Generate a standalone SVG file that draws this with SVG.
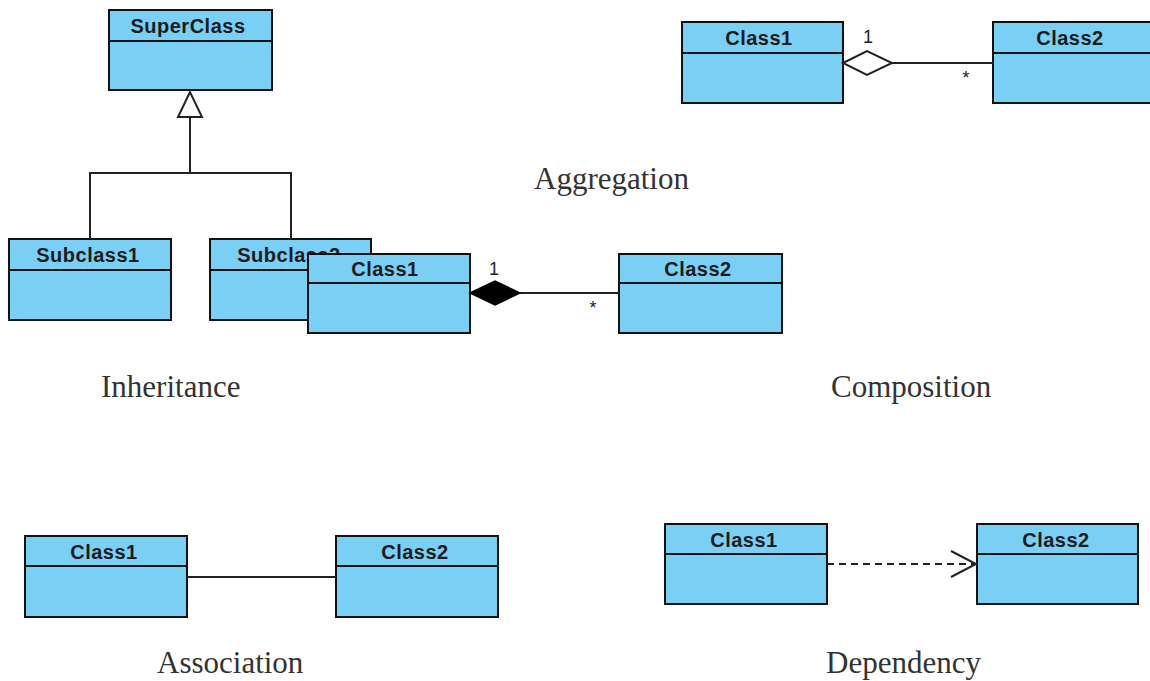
<svg xmlns="http://www.w3.org/2000/svg" width="1150" height="681" viewBox="0 0 1150 681">
  <style>
    .box { fill: #79cff4; stroke: #111; stroke-width: 2; }
    .sep { stroke: #111; stroke-width: 2; }
    .title { font-family: "Liberation Sans", Arial, sans-serif; font-weight: bold; font-size: 20px; fill: #1c1c1c; text-anchor: middle; letter-spacing: 0.5px; }
    .caption { font-family: "Liberation Serif", "Times New Roman", serif; font-size: 31px; fill: #333; }
    .mult { font-family: "Liberation Sans", Arial, sans-serif; font-size: 18px; fill: #222; text-anchor: middle; }
    .line { stroke: #222; stroke-width: 2; fill: none; }
  </style>

  <rect width="1150" height="681" fill="#fff"/>

  <!-- Inheritance -->
  <g id="superclass">
    <rect class="box" x="109" y="10" width="163" height="80"/>
    <line class="sep" x1="109" y1="41" x2="272" y2="41"/>
    <text class="title" x="188" y="33">SuperClass</text>
  </g>
  <g id="subclass1">
    <rect class="box" x="9" y="239" width="162" height="81"/>
    <line class="sep" x1="9" y1="270" x2="171" y2="270"/>
    <text class="title" x="88" y="262">Subclass1</text>
  </g>
  <g id="subclass2">
    <rect class="box" x="210" y="239" width="161" height="81"/>
    <line class="sep" x1="210" y1="270" x2="371" y2="270"/>
    <text class="title" x="289" y="262">Subclass2</text>
  </g>

  <!-- Composition -->
  <g id="comp-class1">
    <rect class="box" x="308" y="254" width="162" height="79"/>
    <line class="sep" x1="308" y1="283" x2="470" y2="283"/>
    <text class="title" x="385" y="276">Class1</text>
  </g>
  <g id="comp-class2">
    <rect class="box" x="619" y="254" width="163" height="79"/>
    <line class="sep" x1="619" y1="283" x2="782" y2="283"/>
    <text class="title" x="698" y="276">Class2</text>
  </g>

  <!-- Aggregation -->
  <g id="agg-class1">
    <rect class="box" x="682" y="22" width="161" height="81"/>
    <line class="sep" x1="682" y1="53" x2="843" y2="53"/>
    <text class="title" x="759" y="45">Class1</text>
  </g>
  <g id="agg-class2">
    <rect class="box" x="993" y="22" width="165" height="81"/>
    <line class="sep" x1="993" y1="53" x2="1158" y2="53"/>
    <text class="title" x="1070" y="45">Class2</text>
  </g>

  <!-- Association -->
  <g id="assoc-class1">
    <rect class="box" x="25" y="536" width="162" height="81"/>
    <line class="sep" x1="25" y1="566" x2="187" y2="566"/>
    <text class="title" x="104" y="559">Class1</text>
  </g>
  <g id="assoc-class2">
    <rect class="box" x="336" y="536" width="162" height="81"/>
    <line class="sep" x1="336" y1="566" x2="498" y2="566"/>
    <text class="title" x="415" y="559">Class2</text>
  </g>

  <!-- Dependency -->
  <g id="dep-class1">
    <rect class="box" x="665" y="524" width="162" height="80"/>
    <line class="sep" x1="665" y1="554" x2="827" y2="554"/>
    <text class="title" x="744" y="547">Class1</text>
  </g>
  <g id="dep-class2">
    <rect class="box" x="977" y="524" width="161" height="80"/>
    <line class="sep" x1="977" y1="554" x2="1138" y2="554"/>
    <text class="title" x="1056" y="547">Class2</text>
  </g>

  <g id="connectors">
    <!-- generalization tree with hollow triangle -->
    <polyline class="line" points="90,239 90,173 291,173 291,239"/>
    <line class="line" x1="190" y1="173" x2="190" y2="117"/>
    <polygon points="190,92 178,117 202,117" fill="#fff" stroke="#222" stroke-width="2"/>

    <!-- aggregation: hollow diamond -->
    <line class="line" x1="892" y1="63" x2="993" y2="63"/>
    <polygon points="843,63 867,51 892,63 867,75" fill="#fff" stroke="#222" stroke-width="2"/>
    <text class="mult" x="868" y="43">1</text>
    <text class="mult" x="966" y="84">*</text>

    <!-- composition: filled diamond -->
    <line class="line" x1="520" y1="293" x2="619" y2="293"/>
    <polygon points="470,293 495,281 520,293 495,305" fill="#000" stroke="#000" stroke-width="1.5"/>
    <text class="mult" x="494" y="275">1</text>
    <text class="mult" x="593" y="314">*</text>

    <!-- association -->
    <line class="line" x1="187" y1="577" x2="336" y2="577"/>

    <!-- dependency: dashed with open arrowhead -->
    <line class="line" x1="827" y1="564" x2="975" y2="564" stroke-dasharray="7,5"/>
    <polyline class="line" points="951,551 976,564 951,577"/>
  </g>

  <!-- captions -->
  <text class="caption" x="534" y="189">Aggregation</text>
  <text class="caption" x="101" y="397">Inheritance</text>
  <text class="caption" x="831" y="397">Composition</text>
  <text class="caption" x="157" y="673">Association</text>
  <text class="caption" x="826" y="673">Dependency</text>
</svg>
